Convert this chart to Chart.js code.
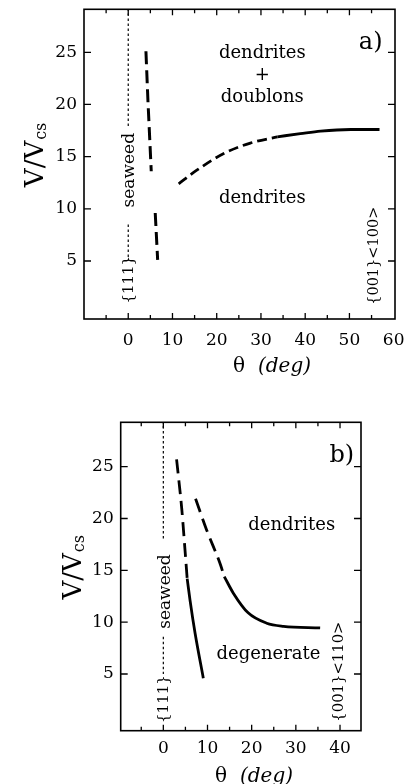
<!DOCTYPE html>
<html><head><meta charset="utf-8">
<script src="https://cdn.jsdelivr.net/npm/chart.js@4.4.1/dist/chart.umd.min.js"></script>
<style>
html,body{margin:0;padding:0;background:#fff;overflow:hidden;}
#wa{position:absolute;left:0;top:0;width:409px;height:400px;}
#wb{position:absolute;left:0;top:400px;width:409px;height:384px;}
</style></head><body>
<div id="wa"><canvas id="ca" width="409" height="400"></canvas></div>
<div id="wb"><canvas id="cb" width="409" height="384"></canvas></div>
<script>
// ---------- tick values / labels ----------
const aXTicks = [-5,0,5,10,15,20,25,30,35,40,45,50,55,60];
const aXLabels = [0,10,20,30,40,50,60];
const bXTicks = [-5,0,5,10,15,20,25,30,35,40];
const bXLabels = [0,10,20,30,40];
const yTicks = [5,10,15,20,25];

// ---------- panel a) series ----------
const aSeaweedUpper = [{x:0,y:29.2},{x:0,y:17.9}];
const aSeaweedLower = [{x:0,y:8.5},{x:0,y:5.0}];
const aSteepUpper = [{x:4.0,y:25.1},{x:4.45,y:20.4},{x:5.2,y:13.6}];
const aSteepLower = [{x:6.1,y:9.6},{x:6.65,y:5.1}];
const aDoublonDashed = [{x:11.4,y:12.4},{x:15.5,y:13.7},{x:21.6,y:15.3},{x:27.6,y:16.3},{x:33.7,y:16.9}];
const aDoublonSolid = [{x:33.7,y:16.9},{x:38.9,y:17.2},{x:43.5,y:17.45},{x:50.3,y:17.6},{x:56.8,y:17.6}];

// ---------- panel b) series ----------
const bSeaweedUpper = [{x:0,y:29.4},{x:0,y:17.9}];
const bSeaweedLower = [{x:0,y:8.6},{x:0,y:5.0}];
const bLeftDashed = [{x:3.0,y:25.7},{x:4.2,y:20.8},{x:4.9,y:17.0},{x:5.4,y:14.2}];
const bLeftSolid = [{x:5.4,y:14.2},{x:6.05,y:12.1},{x:7.2,y:8.9},{x:9.05,y:4.6}];
const bRightDashed = [{x:7.3,y:21.9},{x:9.8,y:18.9},{x:12.8,y:15.7},{x:13.8,y:14.4}];
const bRightSolid = [{x:13.8,y:14.4},{x:15.85,y:12.8},{x:19.2,y:10.9},{x:23.4,y:9.9},{x:27.2,y:9.6},{x:35.5,y:9.45}];

const FONT = "'DejaVu Serif', 'Liberation Serif', serif";

function ds(data, width, dash, smooth) {
  return {data, borderColor:'#000', borderWidth:width, borderDash:dash||[], fill:false,
    pointRadius:0, tension: smooth ? 0.4 : 0, cubicInterpolationMode: smooth ? 'monotone' : 'default',
    borderCapStyle:'butt'};
}

const framePlugin = {
  id:'frame',
  afterDraw(chart, args, o) {
    const {ctx, chartArea:a, scales:{x, y}} = chart;
    ctx.save();
    ctx.strokeStyle = '#000';
    ctx.lineWidth = 1.6;
    ctx.strokeRect(a.left, a.top, a.right - a.left, a.bottom - a.top);
    ctx.lineWidth = 1.3;
    ctx.beginPath();
    x.ticks.forEach(t => {
      const px = x.getPixelForValue(t.value);
      if (px <= a.left + 3 || px >= a.right - 3) return;
      const L = (t.value % 10 === 0) ? 6 : 4;
      ctx.moveTo(px, a.bottom); ctx.lineTo(px, a.bottom - L);
      ctx.moveTo(px, a.top); ctx.lineTo(px, a.top + L);
    });
    y.ticks.forEach(t => {
      const py = y.getPixelForValue(t.value);
      ctx.moveTo(a.left, py); ctx.lineTo(a.left + 7, py);
      ctx.moveTo(a.right, py); ctx.lineTo(a.right - 7, py);
    });
    ctx.stroke();
    ctx.fillStyle = '#000';
    (o.texts || []).forEach(t => {
      ctx.save();
      ctx.font = t.font;
      ctx.translate(x.getPixelForValue(t.x), y.getPixelForValue(t.y));
      if (t.rot) ctx.rotate(-Math.PI / 2);
      ctx.textAlign = 'center';
      ctx.textBaseline = 'alphabetic';
      ctx.fillText(t.s, 0, 0);
      ctx.restore();
    });
    // y-axis title V/V_cs
    const yt = o.yTitle;
    ctx.save();
    ctx.translate(a.left - yt.dx, (a.top + a.bottom) / 2 + yt.dy);
    ctx.rotate(-Math.PI / 2);
    ctx.textAlign = 'left'; ctx.textBaseline = 'alphabetic';
    ctx.font = "26px " + FONT;
    ctx.fillText('V/V', 0, 0);
    const w = ctx.measureText('V/V').width;
    ctx.font = "16px " + FONT;
    ctx.fillText('cs', w + 1, 3);
    ctx.restore();
    // x-axis title θ (deg)
    const xt = o.xTitle;
    ctx.save();
    ctx.textAlign = 'left'; ctx.textBaseline = 'alphabetic';
    ctx.font = "20px " + FONT;
    ctx.fillText('θ', xt.x, a.bottom + xt.dy);
    ctx.font = "italic 20px " + FONT;
    ctx.fillText('(deg)', xt.x + 25, a.bottom + xt.dy);
    ctx.restore();
    ctx.restore();
  }
};

function makeChart(id, c) {
  return new Chart(document.getElementById(id), {
    type:'line',
    data:{datasets:c.datasets},
    options:{
      responsive:false, animation:false, events:[],
      layout:{padding:{left:0, top:c.top, right:c.right, bottom:0}},
      plugins:{legend:{display:false}, tooltip:{enabled:false},
        frame:{texts:c.texts, yTitle:c.yTitle, xTitle:c.xTitle}},
      scales:{
        x:{type:'linear', min:c.xmin, max:c.xmax,
          grid:{display:false, drawTicks:false}, border:{display:false},
          afterBuildTicks:s => { s.ticks = c.xTicks.map(v => ({value:v})); },
          afterFit:s => { s.height = c.xH; s.paddingLeft = 0; s.paddingRight = 0; },
          ticks:{autoSkip:false, maxRotation:0, minRotation:0, padding:c.xPad, color:'#000',
            font:{family:FONT, size:17},
            callback:v => c.xLabels.includes(v) ? String(v) : ''}
        },
        y:{type:'linear', min:c.ymin, max:c.ymax,
          grid:{display:false, drawTicks:false}, border:{display:false},
          afterBuildTicks:s => { s.ticks = yTicks.map(v => ({value:v})); },
          afterFit:s => { s.width = c.yW; s.paddingTop = 0; s.paddingBottom = 0; },
          ticks:{padding:7, color:'#000', font:{family:FONT, size:17},
            callback:v => String(v)}
        }
      }
    },
    plugins:[framePlugin]
  });
}

makeChart('ca', {
  top:9.3, right:409-395, yW:84, xH:400-319,
  xmin:-10, xmax:60.3, ymin:-0.56, ymax:29.12, xPad:11,
  xTicks:aXTicks, xLabels:aXLabels,
  datasets:[
    ds(aSeaweedUpper, 1.2, [2.5,2.5], false),
    ds(aSeaweedLower, 1.2, [2.5,2.5], false),
    ds(aSteepUpper, 3, [13,6], false),
    ds(aSteepLower, 3, [13,6], false),
    ds(aDoublonDashed, 2.8, [10,5], true),
    ds(aDoublonSolid, 2.8, [], true)
  ],
  texts:[
    {s:'a)', x:54.8, y:25.3, font:"24px " + FONT},
    {s:'dendrites', x:30.3, y:24.5, font:"18px " + FONT},
    {s:'+', x:30.3, y:22.3, font:"18px " + FONT},
    {s:'doublons', x:30.3, y:20.26, font:"18px " + FONT},
    {s:'dendrites', x:30.3, y:10.6, font:"18px " + FONT},
    {s:'seaweed', x:1.2, y:13.7, rot:true, font:"17px " + FONT},
    {s:'{111}', x:1.1, y:3.2, rot:true, font:"15px " + FONT},
    {s:'{001}<100>', x:56.4, y:5.5, rot:true, font:"14.5px " + FONT}
  ],
  yTitle:{dx:41, dy:23},
  xTitle:{x:233, dy:53}
});

makeChart('cb', {
  top:22.3, right:409-361, yW:120.7, xH:384-330.7,
  xmin:-9.65, xmax:44.75, ymin:-0.47, ymax:29.28, xPad:8,
  xTicks:bXTicks, xLabels:bXLabels,
  datasets:[
    ds(bSeaweedUpper, 1.2, [2.5,2.5], false),
    ds(bSeaweedLower, 1.2, [2.5,2.5], false),
    ds(bLeftDashed, 2.8, [14,7], true),
    ds(bLeftSolid, 2.8, [], true),
    ds(bRightDashed, 2.8, [14,7], true),
    ds(bRightSolid, 2.8, [], true)
  ],
  texts:[
    {s:'b)', x:40.4, y:25.48, font:"24px " + FONT},
    {s:'dendrites', x:29.07, y:18.9, font:"18px " + FONT},
    {s:'degenerate', x:23.8, y:6.43, font:"18px " + FONT},
    {s:'seaweed', x:1.5, y:12.95, rot:true, font:"17px " + FONT},
    {s:'{111}', x:1.13, y:2.58, rot:true, font:"15px " + FONT},
    {s:'{001}<110>', x:40.7, y:5.23, rot:true, font:"14.8px " + FONT}
  ],
  yTitle:{dx:40, dy:23},
  xTitle:{x:215, dy:51}
});
</script>
</body></html>
